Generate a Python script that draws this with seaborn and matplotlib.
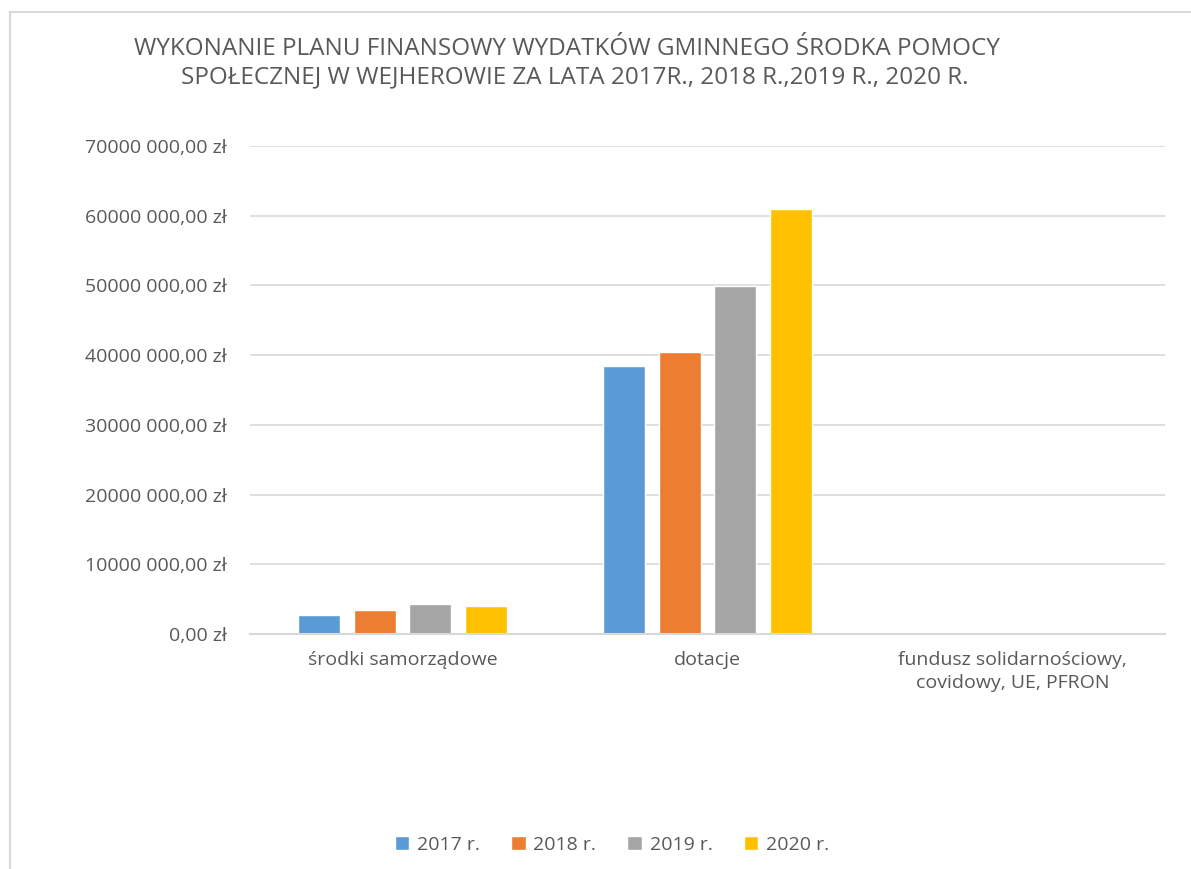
import matplotlib
matplotlib.use("Agg")
import matplotlib.pyplot as plt
from matplotlib.patches import Rectangle
import seaborn as sns
import pandas as pd

# dane
kategorie = ['środki samorządowe', 'dotacje', 'fundusz solidarnościowy,\ncovidowy, UE, PFRON']
lata = ['2017 r.', '2018 r.', '2019 r.', '2020 r.']
wartosci_2017 = [2730000, 38400000, 0]
wartosci_2018 = [3400000, 40500000, 0]
wartosci_2019 = [4300000, 49900000, 200000]
wartosci_2020 = [4060000, 61000000, 180000]
kolory = ['#5b9bd5', '#ed7d31', '#a5a5a5', '#ffc000']
y_ticks = [0, 10000000, 20000000, 30000000, 40000000, 50000000, 60000000, 70000000]

df = pd.DataFrame({
    'kategoria': kategorie * 4,
    'rok': [r for r in lata for _ in kategorie],
    'kwota': wartosci_2017 + wartosci_2018 + wartosci_2019 + wartosci_2020,
})

sns.set_style('white')
plt.rcParams['font.family'] = ['Open Sans', 'DejaVu Sans']
szary = '#595959'

fig = plt.figure(figsize=(11.91, 8.69), dpi=100)
ax = fig.add_axes([250 / 1191, 235 / 869, 915 / 1191, 488 / 869])

sns.barplot(data=df, x='kategoria', y='kwota', hue='rok', palette=kolory,
            width=0.73, gap=0.24, ax=ax, legend=True, saturation=1)

ax.set_ylim(0, 70000000)
ax.set_xlim(-0.5, 2.5)
ax.set_yticks(y_ticks)
ax.set_yticklabels([f'{v // 1000} 000,00 zł' if v else '0,00 zł' for v in y_ticks])
ax.yaxis.grid(True, color='#d9d9d9', linewidth=1.2)
ax.set_axisbelow(True)
ax.tick_params(axis='y', length=0, pad=17, labelsize=14, labelcolor=szary)
ax.tick_params(axis='x', length=0, pad=12, labelsize=14, labelcolor=szary)
for lab in ax.get_xticklabels():
    lab.set_linespacing(1.35)
for s in ['top', 'right', 'left']:
    ax.spines[s].set_visible(False)
ax.spines['bottom'].set_color('#d9d9d9')
ax.spines['bottom'].set_linewidth(1.5)
ax.set_xlabel('')
ax.set_ylabel('')

ax.legend(loc='center', bbox_to_anchor=(612 / 1191, 24 / 869),
          bbox_transform=fig.transFigure, ncol=4, frameon=False,
          fontsize=14, labelcolor=szary, handlelength=0.75, handleheight=0.75,
          handletextpad=0.4, columnspacing=1.6)

fig.text(567 / 1191, 1 - 49 / 869,
         'WYKONANIE PLANU FINANSOWY WYDATKÓW GMINNEGO ŚRODKA POMOCY',
         ha='center', va='center', fontsize=17.5, color=szary)
fig.text(575 / 1191, 1 - 77 / 869,
         'SPOŁECZNEJ W WEJHEROWIE ZA LATA 2017R., 2018 R.,2019 R., 2020 R.',
         ha='center', va='center', fontsize=17.5, color=szary)

fig.patches.append(Rectangle((10 / 1191, -0.1), 1.2, 1.1 - 12 / 869,
                             transform=fig.transFigure, fill=False,
                             edgecolor='#d9d9d9', linewidth=1.5))

fig.savefig('out.png', dpi=100)
